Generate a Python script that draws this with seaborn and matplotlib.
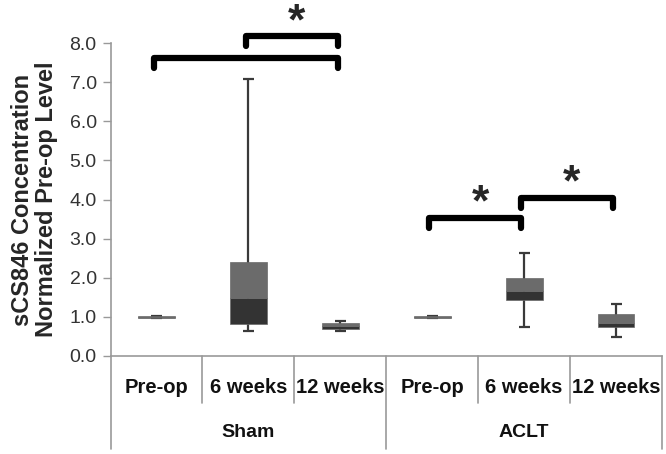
import numpy as np
import matplotlib
matplotlib.use("Agg")
import matplotlib.pyplot as plt
import matplotlib.transforms as mtransforms
import seaborn as sns
import pandas as pd

# box plot summary values (normalized to pre-op level)
groups = ["Sham", "ACLT"]
timepoints = ["Pre-op", "6 weeks", "12 weeks"]
whisker_lo = [0.97, 0.63, 0.63, 0.97, 0.73, 0.49]
q1 = [0.98, 0.81, 0.70, 0.98, 1.42, 0.75]
median = [1.00, 1.48, 0.77, 1.00, 1.66, 0.83]
q3 = [1.02, 2.41, 0.83, 1.02, 1.99, 1.06]
whisker_hi = [1.03, 7.08, 0.89, 1.03, 2.63, 1.34]

# significance brackets: (start cat, end cat)
brackets = [(0, 2), (1, 2), (3, 4), (4, 5)]
bracket_top = [7.62, 8.17, 3.52, 4.03]

sns.set_style("white")
plt.rcParams["font.family"] = ["Liberation Sans", "DejaVu Sans"]

keys = [g + " " + t for g in groups for t in timepoints]
df = pd.DataFrame({
    "cond": keys,
    "lower": np.array(median) - np.array(q1),
    "upper": np.array(q3) - np.array(median),
})

fig = plt.figure(figsize=(6.66, 4.54), dpi=100)
ax = fig.add_axes([0.166, 0.216, 0.828, 0.689])

xs = np.arange(len(keys))
# whiskers
ax.vlines(xs, whisker_lo, whisker_hi, color="#3a3a3a", lw=1.6, zorder=1)
ax.hlines(whisker_lo, xs - 0.06, xs + 0.06, color="#3a3a3a", lw=1.6, zorder=1)
ax.hlines(whisker_hi, xs - 0.06, xs + 0.06, color="#3a3a3a", lw=1.6, zorder=1)

# two-tone boxes: Q1->median dark, median->Q3 lighter
sns.barplot(data=df, x="cond", y="lower", order=keys, color="#333333",
            saturation=1, width=0.4, bottom=q1, errorbar=None, ax=ax,
            edgecolor="#6a6a6a", linewidth=0.5, zorder=2)
sns.barplot(data=df, x="cond", y="upper", order=keys, color="#6b6b6b",
            saturation=1, width=0.4, bottom=median, errorbar=None, ax=ax,
            edgecolor="#6a6a6a", linewidth=0.5, zorder=2)

ax.set_xlim(-0.5, len(keys) - 0.5)
ax.set_ylim(0, 8)
ax.set_yticks(np.arange(0, 9, 1))
ax.set_yticklabels([f"{v:.1f}" for v in np.arange(0, 9, 1)], fontsize=14, color="#333333")
ax.tick_params(axis="y", direction="out", length=6, width=1, color="#999999", left=True, pad=4)
ax.set_xticks([])
ax.set_xlabel("")
ax.set_ylabel("sCS846 Concentration\nNormalized Pre-op Level", fontsize=17,
              fontweight="bold", linespacing=1.1, labelpad=8)
for s in ["top", "right"]:
    ax.spines[s].set_visible(False)
for s in ["left", "bottom"]:
    ax.spines[s].set_color("#999999")
    ax.spines[s].set_linewidth(1.2)

# two-level category axis
trans = mtransforms.blended_transform_factory(ax.transData, ax.transAxes)
for i, t in enumerate(timepoints * len(groups)):
    ax.text(i, -0.101, t, transform=trans, ha="center", va="center",
            fontsize=14.5, fontweight="bold", color="#111111")
for j, g in enumerate(groups):
    ax.text(j * 3 + 1, -0.246, g, transform=trans, ha="center", va="center",
            fontsize=14, fontweight="bold", color="#111111")
for b in [0.5, 1.5, 3.5, 4.5]:
    ax.plot([b, b], [0, -0.15], transform=trans, color="#999999", lw=1.2, clip_on=False)
for b in [-0.5, 2.5, 5.5]:
    ax.plot([b, b], [0, -0.297], transform=trans, color="#999999", lw=1.2, clip_on=False)

# significance brackets
for (a, b), top in zip(brackets, bracket_top):
    a2, b2 = a - 0.03, b - 0.03
    ax.plot([a2, a2, b2, b2], [top - 0.25, top, top, top - 0.25], color="black",
            lw=4.5, solid_joinstyle="round", solid_capstyle="round", clip_on=False, zorder=5)
for (a, b), top in zip(brackets[1:], bracket_top[1:]):
    ax.text((a + b) / 2 + 0.02, top + 0.36, "*", ha="center", va="center", fontsize=32,
            fontweight="bold", clip_on=False)

fig.savefig("out.png", dpi=100)
